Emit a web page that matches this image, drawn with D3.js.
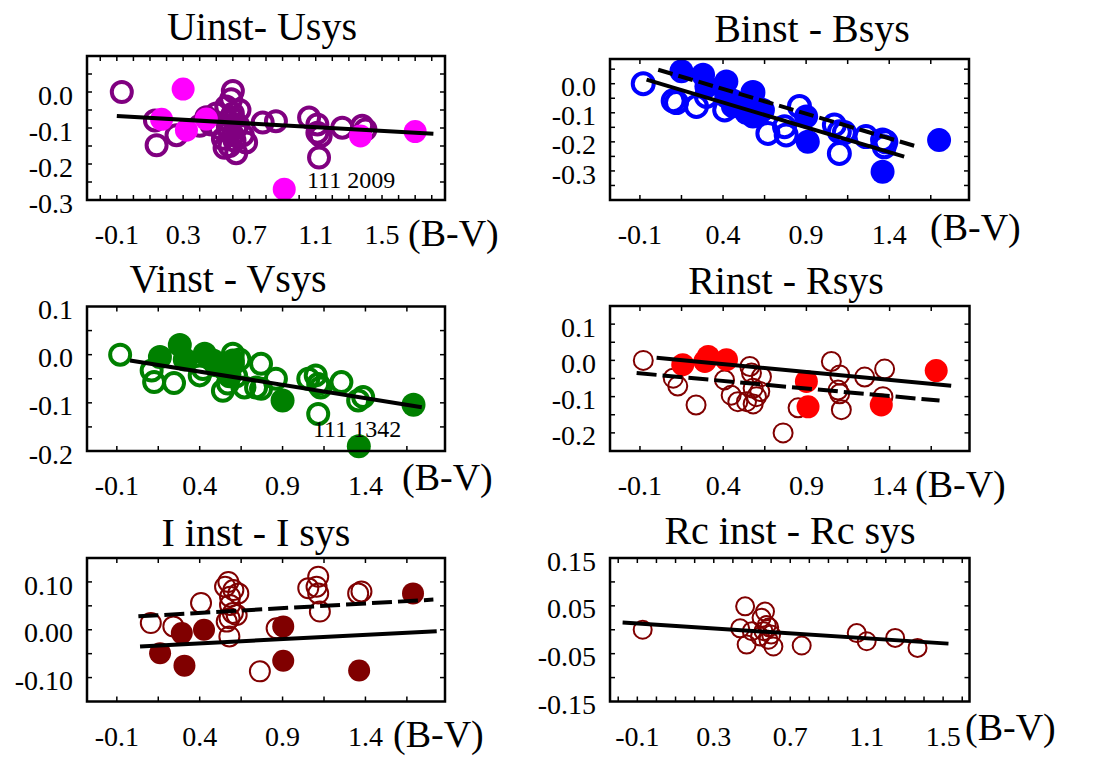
<!DOCTYPE html>
<html><head><meta charset="utf-8">
<script src="https://cdn.jsdelivr.net/npm/d3@7"></script>
<style>
body{margin:0;background:#fff}
svg{display:block}
text{font-family:"Liberation Serif","Times New Roman",serif;fill:#000}
</style>
</head><body>
<svg id="chart" width="1094" height="758"></svg>
<script>
// ---- U band: instrumental minus system magnitude vs (B-V)
const uOpen = [[-0.07,0.0],[0.13,-0.079],[0.14,-0.148],[0.26,-0.12],[0.40,-0.094],[0.44,-0.07],[0.47,-0.09],[0.50,-0.06],[0.52,-0.1],[0.54,-0.13],[0.55,-0.155],[0.56,-0.04],[0.57,-0.08],[0.57,-0.1],[0.58,-0.11],[0.58,-0.15],[0.59,-0.02],[0.59,-0.07],[0.60,0.003],[0.60,-0.06],[0.60,-0.12],[0.61,-0.135],[0.62,-0.17],[0.62,-0.1],[0.63,-0.09],[0.64,-0.05],[0.66,-0.12],[0.68,-0.14],[0.78,-0.085],[0.86,-0.081],[1.06,-0.071],[1.11,-0.09],[1.11,-0.113],[1.13,-0.122],[1.12,-0.182],[1.26,-0.099],[1.38,-0.094],[1.40,-0.104]];
const uFilled = [[0.17,-0.076],[0.30,0.008],[0.32,-0.106],[0.44,-0.075],[0.91,-0.27],[1.37,-0.122],[1.70,-0.11]];
const uFitSolid = [[-0.1,-0.067],[1.81,-0.116]];

// ---- B band
const bOpen = [[-0.08,0.0],[0.10,-0.059],[0.12,-0.065],[0.24,-0.078],[0.30,-0.044],[0.41,-0.09],[0.46,-0.06],[0.58,-0.03],[0.67,-0.171],[0.77,-0.148],[0.78,-0.176],[0.86,-0.078],[1.07,-0.142],[1.10,-0.165],[1.10,-0.24],[1.13,-0.168],[1.26,-0.182],[1.36,-0.194],[1.37,-0.217],[1.38,-0.2]];
const bFilled = [[0.15,0.043],[0.28,0.031],[0.30,-0.01],[0.42,0.008],[0.42,-0.044],[0.46,-0.078],[0.50,-0.07],[0.54,-0.1],[0.56,-0.055],[0.58,-0.032],[0.58,-0.113],[0.60,-0.078],[0.62,-0.1],[0.64,-0.09],[0.90,-0.113],[0.91,-0.2],[1.36,-0.303],[1.70,-0.194]];
const bFitSolid = [[-0.06,0.014],[1.49,-0.251]];
const bFitDashed = [[0.01,0.048],[1.56,-0.215]];

// ---- V band
const vOpen = [[-0.08,0.0],[0.11,-0.033],[0.125,-0.057],[0.245,-0.059],[0.40,-0.043],[0.42,-0.03],[0.50,-0.022],[0.54,-0.075],[0.57,-0.06],[0.60,0.002],[0.60,-0.02],[0.62,-0.045],[0.64,-0.01],[0.67,-0.068],[0.74,-0.068],[0.77,-0.019],[0.77,-0.071],[0.86,-0.05],[1.055,-0.05],[1.10,-0.043],[1.115,-0.061],[1.13,-0.068],[1.115,-0.123],[1.255,-0.057],[1.356,-0.095],[1.386,-0.088]];
const vFilled = [[0.16,-0.005],[0.28,0.02],[0.31,-0.01],[0.43,0.002],[0.48,-0.012],[0.55,-0.03],[0.60,-0.012],[0.58,-0.045],[0.90,-0.095],[1.36,-0.19],[1.69,-0.104]];
const vFitSolid = [[-0.02,-0.012],[1.74,-0.109]];

// ---- R band
const rOpen = [[-0.08,0.0],[0.10,-0.049],[0.127,-0.071],[0.237,-0.123],[0.408,-0.054],[0.448,-0.096],[0.488,-0.114],[0.54,-0.114],[0.56,-0.017],[0.57,-0.035],[0.58,-0.077],[0.58,-0.12],[0.60,-0.1],[0.62,-0.086],[0.63,-0.045],[0.76,-0.2],[0.85,-0.131],[1.05,-0.003],[1.10,-0.04],[1.09,-0.082],[1.10,-0.092],[1.11,-0.136],[1.25,-0.046],[1.36,-0.1],[1.37,-0.024]];
const rFilled = [[0.157,-0.012],[0.29,-0.003],[0.31,0.011],[0.42,0.002],[0.90,-0.058],[0.91,-0.128],[1.35,-0.123],[1.68,-0.028]];
const rFitSolid = [[0.0,0.007],[1.77,-0.07]];
const rFitDashed = [[-0.12,-0.035],[1.70,-0.111]];

// ---- I band
const iOpen = [[0.105,0.014],[0.241,0.007],[0.408,0.056],[0.553,0.09],[0.573,0.1],[0.583,0.069],[0.603,0.083],[0.633,0.076],[0.583,0.052],[0.60,0.035],[0.563,0.017],[0.58,0.024],[0.623,0.031],[0.579,-0.014],[0.763,-0.087],[0.864,0.003],[1.055,0.087],[1.105,0.09],[1.115,0.111],[1.115,0.076],[1.125,0.038],[1.356,0.076],[1.376,0.08]];
const iFilled = [[0.161,-0.049],[0.292,-0.007],[0.308,-0.075],[0.426,0.0],[0.904,0.007],[0.904,-0.065],[1.362,-0.085],[1.687,0.076]];
const iFitSolid = [[0.04,-0.035],[1.83,-0.003]];
const iFitDashed = [[0.03,0.028],[1.81,0.063]];

// ---- Rc band
const rcOpen = [[-0.072,0.0],[0.464,0.049],[0.438,0.003],[0.472,-0.031],[0.499,-0.003],[0.568,0.038],[0.55,0.025],[0.577,0.01],[0.56,-0.003],[0.542,-0.014],[0.59,0.005],[0.586,-0.021],[0.612,-0.035],[0.60,-0.01],[0.76,-0.033],[1.048,-0.007],[1.10,-0.024],[1.249,-0.017],[1.366,-0.038]];
const rcFitSolid = [[-0.177,0.015],[1.528,-0.029]];

// ---- tick labels
const xLabelsA = [-0.1, 0.3, 0.7, 1.1, 1.5];
const xLabelsB = [-0.1, 0.4, 0.9, 1.4];
const yLabelsU = [0.0, -0.1, -0.2, -0.3];
const yLabelsB = [0.0, -0.1, -0.2, -0.3];
const yLabelsV = [0.1, 0.0, -0.1, -0.2];
const yLabelsR = [0.1, 0.0, -0.1, -0.2];
const yLabelsI = [0.10, 0.00, -0.10];
const yLabelsRc = [0.15, 0.05, -0.05, -0.15];

const titles = ["Uinst- Usys", "Binst - Bsys", "Vinst - Vsys", "Rinst - Rsys", "I inst - I sys", "Rc inst - Rc sys"];
const notes = ["111 2009", "111 1342"];

const fmt1 = d => d3.format(".1f")(d).replace("\u2212", "-");
const fmt2 = d => d3.format(".2f")(d).replace("\u2212", "-");

const panels = [
  {title: titles[0], frame: [87, 445, 56, 200], xd: [-0.28, 1.88], yd: [-0.3, 0.1],
   xStep: 0.1, yStep: 0.05, xLab: xLabelsA, yLab: yLabelsU, yFmt: fmt1,
   open: uOpen, filled: uFilled, openColor: "#800080", fillColor: "#ff00ff",
   rOpen: 10, swOpen: 4, rFill: 11.5,
   fits: [{pts: uFitSolid, dash: null}],
   titleX: 262, titleY: 40, bvX: 408, bvY: 246,
   note: {text: notes[0], x: 307, y: 188}},
  {title: titles[1], frame: [610, 969, 59, 200], xd: [-0.28, 1.88], yd: [-0.4, 0.085],
   xStep: 0.25, yStep: 0.05, xLab: xLabelsB, yLab: yLabelsB, yFmt: fmt1,
   open: bOpen, filled: bFilled, openColor: "#0000ff", fillColor: "#0000ff",
   rOpen: 10.5, swOpen: 4, rFill: 12,
   fits: [{pts: bFitSolid, dash: null}, {pts: bFitDashed, dash: "15,6"}],
   titleX: 812, titleY: 42, bvX: 930, bvY: 240},
  {title: titles[2], frame: [87, 445, 306.5, 451], xd: [-0.28, 1.88], yd: [-0.2, 0.1],
   xStep: 0.25, yStep: 0.05, xLab: xLabelsB, yLab: yLabelsV, yFmt: fmt1,
   open: vOpen, filled: vFilled, openColor: "#008000", fillColor: "#008000",
   rOpen: 10, swOpen: 4, rFill: 12,
   fits: [{pts: vFitSolid, dash: null}],
   titleX: 228, titleY: 292, bvX: 402, bvY: 490,
   note: {text: notes[1], x: 313, y: 437}},
  {title: titles[3], frame: [610, 969.5, 306, 451], xd: [-0.28, 1.88], yd: [-0.25, 0.15],
   xStep: 0.25, yStep: 0.05, xLab: xLabelsB, yLab: yLabelsR, yFmt: fmt1,
   open: rOpen, filled: rFilled, openColor: "#800000", fillColor: "#ff0000",
   rOpen: 9.5, swOpen: 2, rFill: 11.5,
   fits: [{pts: rFitSolid, dash: null}, {pts: rFitDashed, dash: "20,6"}],
   titleX: 786, titleY: 294, bvX: 915, bvY: 497},
  {title: titles[4], frame: [87, 445, 558, 701.5], xd: [-0.28, 1.88], yd: [-0.15, 0.15],
   xStep: 0.25, yStep: 0.05, xLab: xLabelsB, yLab: yLabelsI, yFmt: fmt2,
   open: iOpen, filled: iFilled, openColor: "#800000", fillColor: "#800000",
   rOpen: 10, swOpen: 2, rFill: 11,
   fits: [{pts: iFitSolid, dash: null}, {pts: iFitDashed, dash: "20,6"}],
   titleX: 256, titleY: 546, bvX: 393, bvY: 747},
  {title: titles[5], frame: [610, 969.5, 558, 701.5], xd: [-0.243, 1.638], yd: [-0.15, 0.15],
   xStep: 0.1, yStep: 0.05, xLab: xLabelsA, yLab: yLabelsRc, yFmt: fmt2,
   open: rcOpen, filled: [], openColor: "#800000", fillColor: "#800000",
   rOpen: 9, swOpen: 2, rFill: 11,
   fits: [{pts: rcFitSolid, dash: null}],
   titleX: 790, titleY: 544, bvX: 965, bvY: 740}
];

const svg = d3.select("#chart");
const TICK = 5;

panels.forEach(p => {
  const [x0, x1, y0, y1] = p.frame;
  const x = d3.scaleLinear().domain(p.xd).range([x0, x1]);
  const y = d3.scaleLinear().domain(p.yd).range([y1, y0]);
  const g = svg.append("g");

  // inward tick marks on all four sides
  const eps = 1e-9;
  const xStart = Math.ceil((p.xd[0] - (-0.1)) / p.xStep - eps) * p.xStep + (-0.1);
  const xt = d3.range(xStart, p.xd[1] + eps, p.xStep).filter(v => x(v) > x0 + 2 && x(v) < x1 - 2);
  const yStart = Math.ceil(p.yd[0] / p.yStep - eps) * p.yStep;
  const yt = d3.range(yStart, p.yd[1] + eps, p.yStep).filter(v => y(v) > y0 + 2 && y(v) < y1 - 2);
  const tg = g.append("g").attr("stroke", "#000").attr("stroke-width", 1.5);
  xt.forEach(v => {
    tg.append("line").attr("x1", x(v)).attr("x2", x(v)).attr("y1", y1).attr("y2", y1 - TICK);
    tg.append("line").attr("x1", x(v)).attr("x2", x(v)).attr("y1", y0).attr("y2", y0 + TICK);
  });
  yt.forEach(v => {
    tg.append("line").attr("y1", y(v)).attr("y2", y(v)).attr("x1", x0).attr("x2", x0 + TICK);
    tg.append("line").attr("y1", y(v)).attr("y2", y(v)).attr("x1", x1).attr("x2", x1 - TICK);
  });

  // open markers, then filled markers
  g.append("g").selectAll("circle").data(p.open).join("circle")
    .attr("cx", d => x(d[0])).attr("cy", d => y(d[1])).attr("r", p.rOpen)
    .attr("fill", "none").attr("stroke", p.openColor).attr("stroke-width", p.swOpen);
  g.append("g").selectAll("circle").data(p.filled).join("circle")
    .attr("cx", d => x(d[0])).attr("cy", d => y(d[1])).attr("r", p.rFill)
    .attr("fill", p.fillColor);

  // fitted relations
  const line = d3.line().x(d => x(d[0])).y(d => y(d[1]));
  p.fits.forEach(f => {
    g.append("path").attr("d", line(f.pts)).attr("fill", "none")
      .attr("stroke", "#000").attr("stroke-width", 4)
      .attr("stroke-dasharray", f.dash);
  });

  // frame
  g.append("rect").attr("x", x0).attr("y", y0).attr("width", x1 - x0).attr("height", y1 - y0)
    .attr("fill", "none").attr("stroke", "#000").attr("stroke-width", 2.5);

  // tick labels
  g.append("g").selectAll("text").data(p.xLab).join("text")
    .attr("x", d => x(d)).attr("y", y1 + 44).attr("text-anchor", "middle")
    .attr("font-size", 28).text(d => fmt1(d));
  g.append("g").selectAll("text").data(p.yLab).join("text")
    .attr("x", x0 - 14).attr("y", d => y(d)).attr("dy", "0.45em").attr("text-anchor", "end")
    .attr("font-size", 28).text(d => p.yFmt(d));

  // titles and axis name
  g.append("text").attr("x", p.titleX).attr("y", p.titleY).attr("text-anchor", "middle")
    .attr("font-size", 40).text(p.title);
  g.append("text").attr("x", p.bvX).attr("y", p.bvY).attr("font-size", 38).text("(B-V)");

  if (p.note) {
    g.append("text").attr("x", p.note.x).attr("y", p.note.y).attr("font-size", 24).text(p.note.text);
  }
});
</script>
</body></html>
